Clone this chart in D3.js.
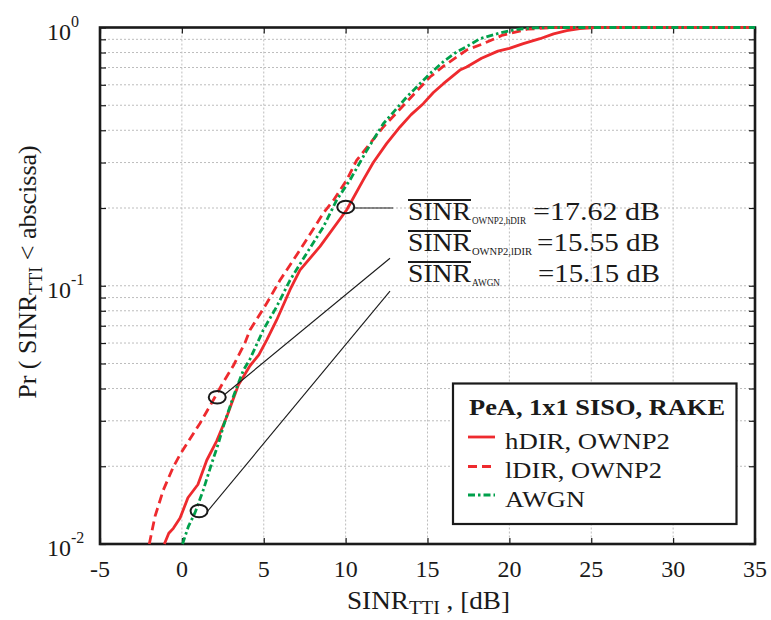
<!DOCTYPE html>
<html><head><meta charset="utf-8">
<script src="https://cdn.jsdelivr.net/npm/d3@7"></script>
<style>
body{margin:0;background:#fff}
text{font-family:"Liberation Serif","Times New Roman",serif;fill:#1a1a1a}
</style>
</head><body><svg id="c" width="771" height="620"></svg>
<script>
// ---------- data ----------
const hdirX = [-1.07,-0.80,-0.52,-0.11,0.37,0.98,1.52,2.13,2.74,3.45,4.16,4.70,5.18,5.79,6.60,7.21,8.44,10.07,11.08,11.69,12.5,13.32,14.0,14.74,15.36,15.97,16.98,17.39,18.3,19.3,20.0,20.85,21.87,22.7,23.5,24.3,25.2,26,35];
const hdirP = [0.0100,0.0110,0.0115,0.0126,0.0151,0.0170,0.0211,0.0251,0.0311,0.0413,0.0490,0.0540,0.0616,0.0737,0.0963,0.115,0.142,0.197,0.257,0.300,0.355,0.412,0.46,0.507,0.560,0.606,0.684,0.703,0.76,0.81,0.83,0.866,0.905,0.945,0.972,0.99,0.999,1.0,1.0];

const ldirX = [-1.99,-1.64,-1.13,-0.52,-0.11,0.45,1.10,1.92,2.5,3.14,3.85,4.16,5.18,5.99,7.21,8.64,9.25,10.07,10.67,12.30,13.73,15.15,16.0,16.78,17.39,18.41,19.6,21.1,22.5,23.5,35];
const ldirP = [0.0100,0.0128,0.0162,0.0199,0.0222,0.0253,0.0293,0.0361,0.042,0.0490,0.0600,0.0674,0.0855,0.105,0.1375,0.191,0.214,0.257,0.306,0.412,0.515,0.643,0.71,0.769,0.818,0.866,0.935,0.985,0.998,1.0,1.0];

const awgnX = [0.04,0.40,0.80,1.31,1.82,2.23,2.53,3.14,3.75,4.16,4.97,5.79,6.60,7.62,8.64,9.46,10.27,11.3,12.30,13.73,15.15,16.0,16.78,17.39,18.2,19.5,20.45,21.5,22.5,35];
const awgnP = [0.0100,0.0117,0.0132,0.0162,0.0205,0.0245,0.0285,0.0372,0.0470,0.052,0.0674,0.083,0.105,0.1335,0.169,0.215,0.257,0.335,0.424,0.538,0.663,0.74,0.804,0.843,0.905,0.955,0.984,0.997,1.0,1.0];

const xTicks = [-5,0,5,10,15,20,25,30,35];
const yMajor = [0.01,0.1,1];
const yMajorLabels = ["-2","-1","0"];
const yMinor = [0.02,0.03,0.04,0.05,0.06,0.07,0.08,0.09,0.2,0.3,0.4,0.5,0.6,0.7,0.8,0.9];

const seriesNames = ["hDIR, OWNP2","lDIR, OWNP2","AWGN"];
const seriesColors = ["#ee2a2e","#ee2a2e","#00a04b"];
const seriesDash = [null,"9,5","7,3,2.5,3"];

// annotation markers (data coords): centre, line start, line end
const annCx = [10.01, 2.16, 1.05];
const annCy = [0.2018, 0.0370, 0.01342];
const annX1 = [10.5, 2.63, 1.53];
const annY1 = [0.2, 0.0380, 0.0133];
const annX2 = [12.9, 12.71, 12.71];
const annY2 = [0.2, 0.1278, 0.0953];
const annSub = ["OWNP2,hDIR","OWNP2,lDIR","AWGN"];
const annVal = ["=17.62 dB","=15.55 dB","=15.15 dB"];

// ---------- chart ----------
const svg = d3.select("#c");
const L=100, R=755, T=27.5, B=544;
const x = d3.scaleLinear().domain([-5,35]).range([L,R]);
const y = d3.scaleLog().domain([0.01,1]).range([B,T]);

function stretch(sel, w){ sel.attr("textLength", w).attr("lengthAdjust","spacingAndGlyphs"); return sel; }

const grid = svg.append("g").attr("stroke","#bdbdbd").attr("stroke-width",1).attr("stroke-dasharray","2,2");
grid.selectAll("line.v").data(xTicks.slice(1,-1)).join("line")
  .attr("x1",d=>x(d)).attr("x2",d=>x(d)).attr("y1",T).attr("y2",B);
grid.selectAll("line.h").data(yMinor.concat([0.1])).join("line")
  .attr("y1",d=>y(d)).attr("y2",d=>y(d)).attr("x1",L).attr("x2",R);

// ticks via axes (inside)
function tickAxis(ax, tr){
  const g = svg.append("g").attr("transform",tr).call(ax);
  g.select(".domain").remove();
  g.selectAll("line").attr("stroke","#1a1a1a").attr("stroke-width",1.2);
  g.selectAll("text").remove();
}
tickAxis(d3.axisBottom(x).tickValues(xTicks).tickSize(-6), `translate(0,${B})`);
tickAxis(d3.axisTop(x).tickValues(xTicks).tickSize(-6), `translate(0,${T})`);
tickAxis(d3.axisLeft(y).tickValues(yMajor.concat(yMinor)).tickSize(-6), `translate(${L},0)`);
tickAxis(d3.axisRight(y).tickValues(yMajor.concat(yMinor)).tickSize(-6), `translate(${R},0)`);

// frame
svg.append("rect").attr("x",L).attr("y",T).attr("width",R-L).attr("height",B-T)
  .attr("fill","none").attr("stroke","#1a1a1a").attr("stroke-width",2.6);

// tick labels
svg.selectAll("text.xt").data(xTicks).join("text").attr("class","xt")
  .attr("x",d=>x(d)).attr("y",577).attr("text-anchor","middle").attr("font-size",24)
  .text(d=>d);
const yl = svg.selectAll("text.yt").data(yMajor).join("text").attr("class","yt")
  .attr("x",47).attr("y",d=>y(d)+12).attr("font-size",24);
yl.append("tspan").text("10");
yl.append("tspan").attr("dy",-13).attr("font-size",16).text((d,i)=>yMajorLabels[i]);

// axis titles
const xt = svg.append("text").attr("x",347).attr("y",609).attr("font-size",26);
xt.append("tspan").text("SINR");
xt.append("tspan").attr("dy",5).attr("font-size",19).text("TTI");
xt.append("tspan").attr("dy",-5).text(" , [dB]");
stretch(xt,163);

const yt = svg.append("text").attr("transform",`translate(36,${272}) rotate(-90)`).attr("text-anchor","middle").attr("font-size",26);
yt.append("tspan").text("Pr ( SINR");
yt.append("tspan").attr("dy",6).attr("font-size",18).text("TTI");
yt.append("tspan").attr("dy",-6).text(" < abscissa)");

// series
const series = [[hdirX,hdirP],[ldirX,ldirP],[awgnX,awgnP]];
const line = d3.line().x(d=>x(d[0])).y(d=>y(d[1]));
series.forEach((s,i)=>{
  const pts = s[0].map((v,k)=>[v,s[1][k]]);
  svg.append("path").datum(pts).attr("d",line).attr("fill","none")
    .attr("stroke",seriesColors[i]).attr("stroke-width",2.8)
    .attr("stroke-dasharray",seriesDash[i]).attr("stroke-linejoin","round");
});

// annotations
annCx.forEach((c,i)=>{
  svg.append("ellipse").attr("cx",x(c)).attr("cy",y(annCy[i])).attr("rx",8.5).attr("ry",6.3)
    .attr("fill","none").attr("stroke","#1a1a1a").attr("stroke-width",2);
  svg.append("line").attr("x1",x(annX1[i])).attr("y1",y(annY1[i])).attr("x2",x(annX2[i])).attr("y2",y(annY2[i]))
    .attr("stroke","#1a1a1a").attr("stroke-width",1.1);
});
const annBase = [220,251,282];
const annEqX = [533,537,538];
const annSubW = [54,60,28];
annSub.forEach((s,i)=>{
  stretch(svg.append("text").attr("x",408).attr("y",annBase[i]).attr("font-size",25).text("SINR"),63);
  svg.append("line").attr("x1",408).attr("x2",471).attr("y1",annBase[i]-20).attr("y2",annBase[i]-20)
    .attr("stroke","#1a1a1a").attr("stroke-width",2);
  stretch(svg.append("text").attr("x",472).attr("y",annBase[i]+4).attr("font-size",11).text(s),annSubW[i]);
  stretch(svg.append("text").attr("x",annEqX[i]).attr("y",annBase[i]).attr("font-size",25).text(annVal[i]),660-annEqX[i]);
});

// legend
const lg = svg.append("g");
lg.append("rect").attr("x",453).attr("y",383.5).attr("width",283.5).attr("height",140.5)
  .attr("fill","#fff").attr("stroke","#1a1a1a").attr("stroke-width",2.2);
stretch(lg.append("text").attr("x",469).attr("y",415).attr("font-size",24).attr("font-weight","bold").text("PeA, 1x1 SISO, RAKE"),256);
const lgY = [437,466.5,495];
const lgTY = [448.5,477.5,506.5];
const lgW = [165,157,80];
seriesNames.forEach((n,i)=>{
  lg.append("line").attr("x1",468).attr("x2",495).attr("y1",lgY[i]).attr("y2",lgY[i])
    .attr("stroke",seriesColors[i]).attr("stroke-width",2.8).attr("stroke-dasharray",seriesDash[i]);
  stretch(lg.append("text").attr("x",505).attr("y",lgTY[i]).attr("font-size",24).text(n),lgW[i]);
});
</script>
</body></html>
